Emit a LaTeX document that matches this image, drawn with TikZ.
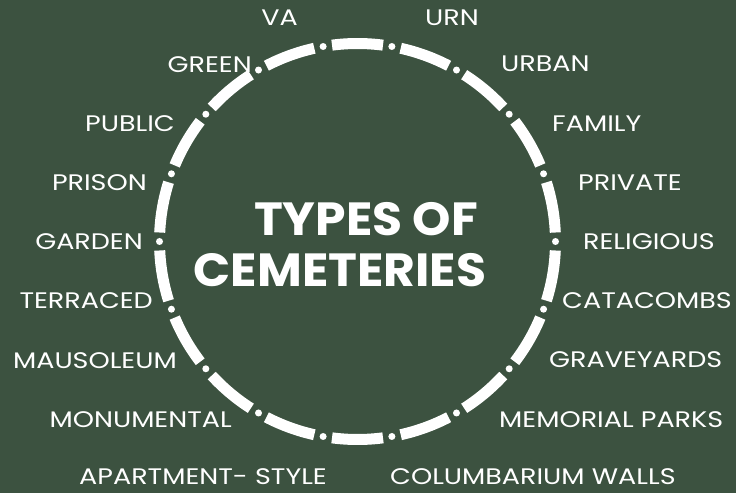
\documentclass[tikz,border=0pt]{standalone}
\usepackage{fontspec}
\setmainfont{Poppins}
\newfontfamily\lblfont{Poppins}[FakeStretch=1.2]
\newfontfamily\ttlfont{Poppins}[FakeStretch=1.05]
\usetikzlibrary{positioning}
\definecolor{bggreen}{HTML}{3C5240}

\begin{document}
\begin{tikzpicture}[x=1pt, y=1pt,
    lblleft/.style={anchor=east, inner sep=0pt, text=white, font=\lblfont\fontsize{22.5}{22.5}\selectfont},
    lblright/.style={anchor=west, inner sep=0pt, text=white, font=\lblfont\fontsize{22.5}{22.5}\selectfont},
    title/.style={inner sep=0pt, text=white, font=\ttlfont\fontsize{46.5}{46.5}\selectfont\bfseries},
    ring/.style={draw=white, line width=11pt},
    ringdot/.style={circle, fill=white, inner sep=0pt, minimum size=7pt}
]
    % Background
    \fill[bggreen] (0,0) rectangle (736,493);
    \useasboundingbox (0,0) rectangle (736,493);

    % Ring
    \coordinate (hub) at (357.5,251.5);
    \foreach \a in {0,20,...,340} {
        \draw[ring] ([shift={(\a+2.6:198)}]hub) arc[start angle=\a+2.6, end angle=\a+17.4, radius=198];
        \node[ringdot] (dot\a) at ([shift={(\a:198)}]hub) {};
    }

    % Title
    \node[title] (types) at (366,274) {TYPES OF};
    \node[title] (cem) at (340,223) {CEMETERIES};

    % Left labels
    \node[lblleft] (va) at (298,475) {VA};
    \node[lblleft] (green) at (252,428) {GREEN};
    \node[lblleft] (public) at (175,369) {PUBLIC};
    \node[lblleft] (prison) at (147,310) {PRISON};
    \node[lblleft] (garden) at (143,251) {GARDEN};
    \node[lblleft] (terraced) at (153,192) {TERRACED};
    \node[lblleft] (mausoleum) at (177,132) {MAUSOLEUM};
    \node[lblleft] (monumental) at (232,73) {MONUMENTAL};
    \node[lblleft] (apartment) at (327,16) {APARTMENT- STYLE};

    % Right labels
    \node[lblright] (urn) at (425,475) {URN};
    \node[lblright] (urban) at (501,429) {URBAN};
    \node[lblright] (family) at (552,369) {FAMILY};
    \node[lblright] (private) at (578,310) {PRIVATE};
    \node[lblright] (religious) at (583,251) {RELIGIOUS};
    \node[lblright, anchor=east] (catacombs) at (732,192) {CATACOMBS};
    \node[lblright] (graveyards) at (549,133) {GRAVEYARDS};
    \node[lblright] (memorial) at (499,73) {MEMORIAL PARKS};
    \node[lblright] (columbarium) at (390,16) {COLUMBARIUM WALLS};
\end{tikzpicture}
\end{document}
